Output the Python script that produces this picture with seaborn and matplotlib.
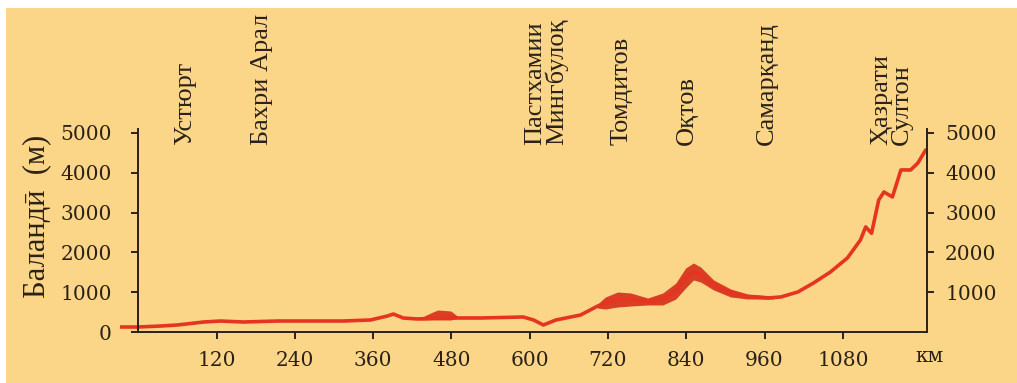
"""
Elevation profile (Ustyurt - Hazrati Sulton), drawn with seaborn + matplotlib.
"""

import matplotlib
matplotlib.use("Agg")
import matplotlib.pyplot as plt
from matplotlib.patches import Rectangle
import pandas as pd
import seaborn as sns

# profile line: distance (km) and elevation (m)
distance_km = [-28, 0, 34, 60, 100, 126, 161, 213, 264, 314, 356, 382, 391,
               406, 428, 459, 491, 525, 590, 606, 621, 640, 678, 704, 716,
               735, 755, 781, 804, 824, 839, 851, 862, 882, 908, 934, 965,
               985, 1011, 1035, 1061, 1087, 1107, 1115, 1124, 1135, 1143,
               1156, 1169, 1184, 1195, 1207]
elevation_m = [126, 126, 150, 176, 251, 276, 251, 276, 276, 276, 302, 402, 452,
               352, 327, 352, 352, 352, 377, 302, 176, 301, 427, 650, 730,
               815, 815, 766, 829, 1030, 1350, 1520, 1450, 1180, 1000, 890, 854,
               880, 1005, 1231, 1508, 1860, 2312, 2640, 2480, 3317, 3518,
               3393, 4071, 4071, 4247, 4574]

# thick bands (mountain ranges) around the profile
band1_km = [432, 448, 459, 479, 491]
band1_top = [352, 477, 553, 528, 377]
band1_bot = [302, 302, 302, 302, 352]

band2_km = [704, 716, 735, 755, 781, 804, 824, 839, 851, 862, 882, 908, 934, 974]
band2_top = [700, 880, 1005, 980, 854, 980, 1231, 1608, 1734, 1633, 1307, 1080, 955, 905]
band2_bot = [600, 578, 628, 653, 679, 679, 829, 1106, 1307, 1256, 1055, 880, 829, 829]

# place names along the route
places = ["Устюрт", "Бахри Арал", "Пастхамии\nМингбулоқ", "Томдитов",
          "Оқтов", "Самарқанд", "Ҳазрати\nСултон"]
place_x_px = [185, 262, 546, 622, 687, 767, 892]

x_ticks = [120, 240, 360, 480, 600, 720, 840, 960, 1080]
y_ticks_left = [0, 1000, 2000, 3000, 4000, 5000]
y_ticks_right = [1000, 2000, 3000, 4000, 5000]

BG = "#fcd688"
LINE = "#e5341f"
BAND = "#d42e1a"
INK = "#2a2118"

sns.set_style("ticks")
plt.rcParams["font.family"] = ["DejaVu Serif"]

W, H = 1017, 383
fig = plt.figure(figsize=(W / 100, H / 100), dpi=100)
fig.patch.set_facecolor("white")
fig.add_artist(Rectangle((6 / W, 0), 1, 1 - 8 / H, transform=fig.transFigure,
                         facecolor=BG, edgecolor="none", zorder=-5))

ax = fig.add_axes([120 / W, (H - 332) / H, 807 / W, 203 / H])
ax.set_facecolor("none")

df = pd.DataFrame({"km": distance_km, "m": elevation_m})
sns.lineplot(data=df, x="km", y="m", ax=ax, color=LINE, lw=2.6,
             estimator=None, sort=False, solid_joinstyle="round",
             solid_capstyle="round")
ax.fill_between(band1_km, band1_bot, band1_top, color=BAND, lw=0, alpha=0.9)
ax.fill_between(band2_km, band2_bot, band2_top, color=BAND, lw=0, alpha=0.9)

ax.set_xlim(-28, 1209)
ax.set_ylim(0, 5100)
ax.set_xlabel("")
ax.set_ylabel("")
ax.set_xticks(x_ticks)
ax.set_yticks(y_ticks_left)

ax.spines["top"].set_visible(False)
ax.spines["right"].set_visible(False)
ax.spines["left"].set_position(("data", 0))
ax.spines["bottom"].set_bounds(0, 1209)
for s in ("left", "bottom"):
    ax.spines[s].set_linewidth(1.4)
    ax.spines[s].set_color(INK)
ax.tick_params(axis="both", direction="out", length=5, width=1.4,
               color=INK, labelcolor=INK, labelsize=14.5)
ax.tick_params(axis="y", pad=14)
ax.tick_params(axis="x", pad=9)

ax2 = ax.twinx()
ax2.set_ylim(0, 5100)
ax2.set_yticks(y_ticks_right)
for s in ("left", "top", "bottom"):
    ax2.spines[s].set_visible(False)
ax2.spines["right"].set_linewidth(1.4)
ax2.spines["right"].set_color(INK)
ax2.tick_params(axis="y", direction="out", length=5, width=1.4,
                color=INK, labelcolor=INK, labelsize=14.5, pad=8)

fig.text(930 / W, (H - 357) / H, "км", ha="center", va="center",
         fontsize=14.5, color=INK)

fig.text(37 / W, (H - 216) / H, "Баландӣ  (м)", rotation=90,
         ha="center", va="center", fontsize=22, color=INK,
         family=["Liberation Serif", "DejaVu Serif"])

for name, xp in zip(places, place_x_px):
    fig.text(xp / W, (H - 145) / H, name, rotation=90, ha="center",
             va="bottom", multialignment="left", fontsize=19, color=INK,
             linespacing=0.9, family=["Liberation Serif", "DejaVu Serif"])

fig.savefig("out.png", dpi=100, facecolor=fig.get_facecolor())
